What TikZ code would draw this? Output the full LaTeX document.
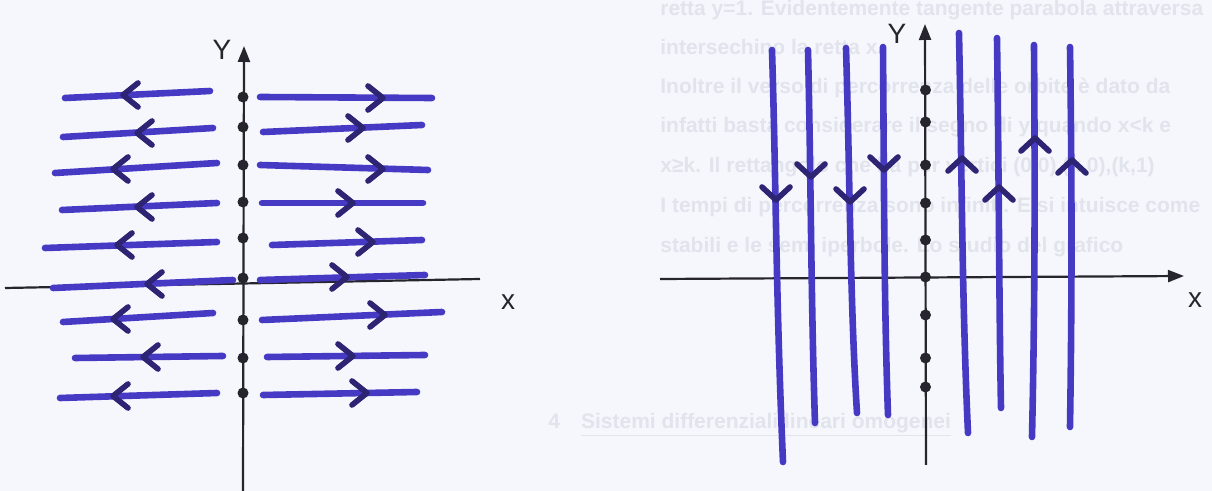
\documentclass[tikz,border=0pt]{standalone}
\usepackage{fontspec}
\setmainfont{Liberation Sans}
\usetikzlibrary{arrows.meta}
\definecolor{paper}{RGB}{246,247,252}
\definecolor{ink}{RGB}{70,58,196}
\definecolor{inkdark}{RGB}{46,36,116}
\definecolor{axisc}{RGB}{38,36,44}
\definecolor{ghost}{RGB}{225,228,236}
\begin{document}
\begin{tikzpicture}[x=0.5pt,y=-0.5pt,
  traj/.style={draw=ink,line width=3.3pt,line cap=round},
  chev/.style={draw=inkdark,line width=2.8pt,line cap=round,line join=round},
  axisline/.style={draw=axisc,line width=1.1pt},
  axisarrow/.style={axisline,-{Triangle[length=8pt,width=6pt]}},
  eqpt/.style={circle,fill=axisc,inner sep=0pt,minimum size=5.5pt},
  lab/.style={font=\fontsize{14}{14}\selectfont,text=axisc,inner sep=0pt},
  ghosttext/.style={text=ghost,font=\fontsize{10.5}{10.5}\selectfont\bfseries,anchor=west,inner sep=0pt}
]
\fill[paper] (0,0) rectangle (1212,491);
\useasboundingbox (0,0) rectangle (1212,491);

% faded page text showing through
\node[ghosttext] (g1) at (660,10) {retta y=1. Evidentemente tangente parabola attraversa};
\node[ghosttext] (g2) at (660,47) {intersechino la retta x.};
\node[ghosttext] (g3) at (660,88) {Inoltre il verso di percorrenza delle orbite è dato da};
\node[ghosttext] (g4) at (660,127) {infatti basta considerare il segno di y quando x<k e};
\node[ghosttext] (g5) at (660,167) {x\char"2265 k. Il rettangolo che ha per vertici (0,0),(k,0),(k,1)};
\node[ghosttext] (g6) at (660,207) {I tempi di percorrenza sono infiniti. E si intuisce come};
\node[ghosttext] (g7) at (660,247) {stabili e le semi iperbole. Lo studio del grafico};
\node[ghosttext] (g8) at (548,425) {4\quad \underline{Sistemi differenziali lineari omogenei}};

% ---------- left portrait ----------
\coordinate (lxa) at (5,288);
\coordinate (lxb) at (480,279);
\draw[axisline] (lxa) -- (lxb);
\coordinate (lyb) at (243,491);
\coordinate (lyt) at (244,46);
\draw[axisarrow] (lyb) -- (lyt);
\node[lab] (lY) at (222,50) {Y};
\node[lab] (lX) at (508,302) {x};

\foreach \xa/\ya/\xb/\yb/\ax/\ay [count=\i] in {
  65/98/210/91/123/95, 63/137/213/128/137/133, 55/173/217/163/113/169,
  62/210/217/203/137/207, 45/248/217/242/117/245, 53/288/233/280/147/284,
  63/322/213/313/113/319, 75/358/223/356/143/357, 60/398/217/393/113/396}{
  \coordinate (lw\i a) at (\xa,\ya);
  \coordinate (lw\i b) at (\xb,\yb);
  \draw[traj] (lw\i a) -- (lw\i b);
  \coordinate (lw\i h) at (\ax,\ay);
  \draw[chev] ([shift={(15,-12)}]lw\i h) -- (lw\i h) -- ([shift={(15,12)}]lw\i h);
}
\foreach \xa/\ya/\xb/\yb/\ax/\ay [count=\i] in {
  260/97/432/98/383/98, 263/132/422/125/363/128, 260/165/428/170/383/169,
  262/203/423/203/353/203, 272/245/422/240/373/242, 260/280/425/275/347/277,
  262/320/442/312/385/315, 267/357/425/355/353/356, 263/395/417/392/367/393}{
  \coordinate (le\i a) at (\xa,\ya);
  \coordinate (le\i b) at (\xb,\yb);
  \draw[traj] (le\i a) -- (le\i b);
  \coordinate (le\i h) at (\ax,\ay);
  \draw[chev] ([shift={(-15,-12)}]le\i h) -- (le\i h) -- ([shift={(-15,12)}]le\i h);
}
\foreach \y [count=\i] in {97,127,165,202,238,278,320,358,393}{
  \node[eqpt] (ld\i) at (243,\y) {};
}

% ---------- right portrait ----------
\coordinate (rxa) at (660,279);
\coordinate (rxb) at (1184,276);
\draw[axisarrow] (rxa) -- (rxb);
\coordinate (ryb) at (926,465);
\coordinate (ryt) at (925,24);
\draw[axisarrow] (ryb) -- (ryt);
\node[lab] (rY) at (897,34) {Y};
\node[lab] (rX) at (1195,300) {x};

\foreach \xt/\yt/\xm/\xbb/\ybb/\hy [count=\i] in {
  772/50/776/783/462/200, 808/50/811/815/423/177, 846/48/850/857/413/202,
  883/47/884/888/415/170}{
  \coordinate (rs\i t) at (\xt,\yt);
  \coordinate (rs\i b) at (\xbb,\ybb);
  \draw[traj] (rs\i t) .. controls (\xm,180) and (\xm,300) .. (rs\i b);
  \coordinate (rs\i h) at (\xm,\hy);
  \draw[chev] ([shift={(-14,-13)}]rs\i h) -- (rs\i h) -- ([shift={(14,-13)}]rs\i h);
}
\foreach \xt/\yt/\xm/\xbb/\ybb/\hy [count=\i] in {
  959/33/962/968/433/158, 997/38/999/1001/408/187, 1034/45/1035/1032/437/138,
  1070/47/1072/1070/427/160}{
  \coordinate (ru\i t) at (\xt,\yt);
  \coordinate (ru\i b) at (\xbb,\ybb);
  \draw[traj] (ru\i t) .. controls (\xm,180) and (\xm,300) .. (ru\i b);
  \coordinate (ru\i h) at (\xm,\hy);
  \draw[chev] ([shift={(-14,13)}]ru\i h) -- (ru\i h) -- ([shift={(14,13)}]ru\i h);
}
\foreach \y [count=\i] in {90,122,165,203,240,277,315,358,387}{
  \node[eqpt] (rd\i) at (925.5,\y) {};
}
\end{tikzpicture}
\end{document}
